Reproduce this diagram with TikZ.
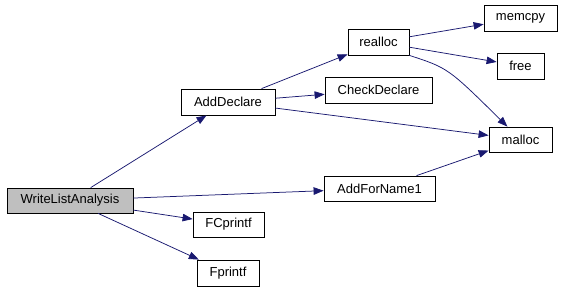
\documentclass[tikz,border=0pt]{standalone}
\usepackage{fontspec}
\setmainfont{Liberation Sans}
\usetikzlibrary{arrows.meta}
\definecolor{edgeblue}{HTML}{191970}
\definecolor{rootgray}{HTML}{BFBFBF}
\begin{document}
\begin{tikzpicture}[x=1pt,y=-1pt,
  fn/.style={draw=black,line width=0.8pt,fill=white,inner sep=0pt,
    font=\fontsize{13}{15}\selectfont},
  call/.style={draw=edgeblue,line width=0.75pt,
    -{Triangle[length=10pt,width=7.5pt,fill=edgeblue,color=edgeblue]}}]
\useasboundingbox (0,0) rectangle (562,289);
\node[fn,fill=rootgray,minimum width=126pt,minimum height=25pt] (wla) at (70,200.5) {WriteListAnalysis};
\node[fn,minimum width=94pt,minimum height=26pt] (addd) at (228,102) {AddDeclare};
\node[fn,minimum width=71pt,minimum height=25pt] (fcp) at (228.5,224.5) {FCprintf};
\node[fn,minimum width=62pt,minimum height=26pt] (fp) at (228,273) {Fprintf};
\node[fn,minimum width=61pt,minimum height=26pt] (realloc) at (378.5,42) {realloc};
\node[fn,minimum width=73pt,minimum height=26pt] (memcpy) at (520.5,18) {memcpy};
\node[fn,minimum width=47pt,minimum height=26pt] (free) at (520.5,66) {free};
\node[fn,minimum width=107pt,minimum height=26pt] (check) at (378.5,90) {CheckDeclare};
\node[fn,minimum width=63pt,minimum height=25pt] (malloc) at (520.5,139.5) {malloc};
\node[fn,minimum width=111pt,minimum height=25pt] (afn) at (379.5,188.5) {AddForName1};
\draw[call] (wla) -- (addd);
\draw[call] (wla) -- (afn);
\draw[call] (wla) -- (fcp);
\draw[call] (wla) -- (fp);
\draw[call] (addd) -- (realloc);
\draw[call] (addd) -- (check);
\draw[call] (addd) -- (malloc);
\draw[call] (realloc) -- (memcpy);
\draw[call] (realloc) -- (free);
\draw[call] (realloc.south east) .. controls (448,68) .. (malloc);
\draw[call] (afn) -- (malloc);
\end{tikzpicture}
\end{document}
